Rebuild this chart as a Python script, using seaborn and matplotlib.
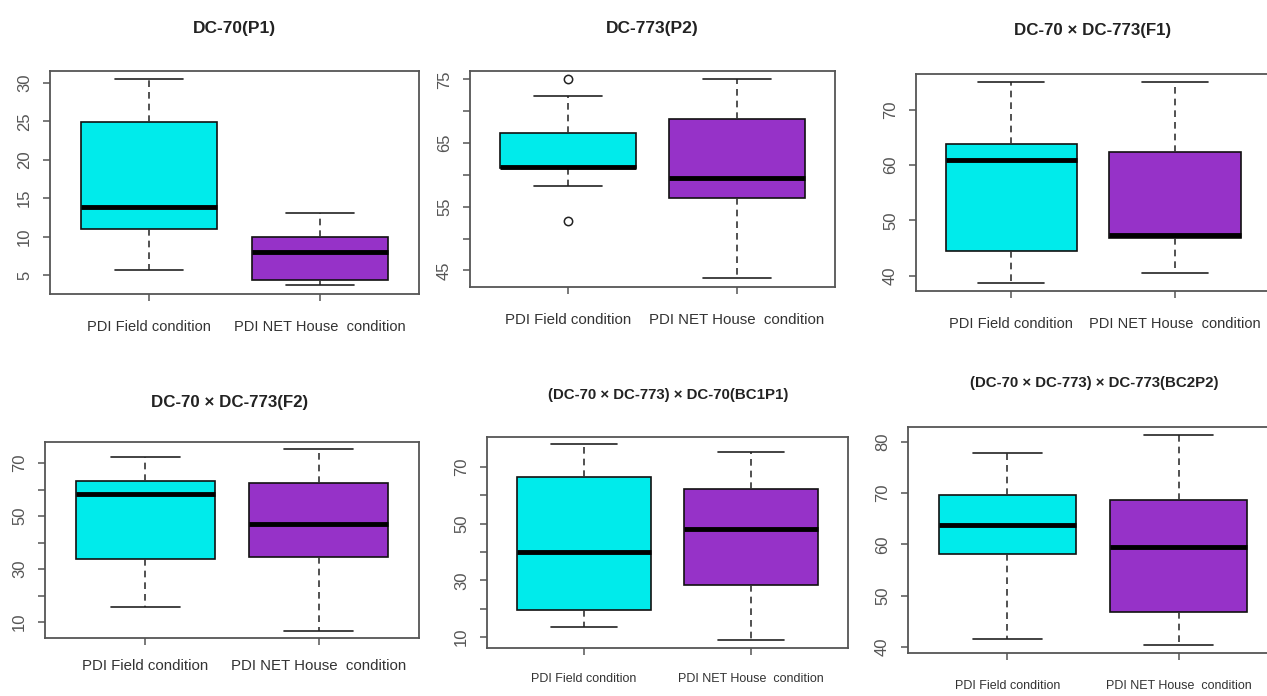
import numpy as np
import pandas as pd
import matplotlib
matplotlib.use("Agg")
import matplotlib.pyplot as plt
import seaborn as sns
from matplotlib import font_manager as fm

# ---------------- data ----------------
titles = ["DC-70(P1)", "DC-773(P2)", "DC-70 \u00d7 DC-773(F1)",
          "DC-70 \u00d7 DC-773(F2)", "(DC-70 \u00d7 DC-773) \u00d7 DC-70(BC1P1)",
          "(DC-70 \u00d7 DC-773) \u00d7 DC-773(BC2P2)"]
categories = ["PDI Field condition", "PDI NET House  condition"]

# five-number summaries: [lower whisker, Q1, median, Q3, upper whisker]
field_p1 = [5.6, 11.0, 13.8, 24.9, 30.5]
net_p1 = [3.7, 4.3, 8.0, 9.9, 13.1]
field_p2 = [58.3, 61.0, 61.3, 66.6, 72.3]
field_p2_outliers = [52.8, 75.0]
net_p2 = [43.8, 56.3, 59.5, 68.8, 75.0]
field_f1 = [38.7, 44.5, 61.0, 63.8, 75.0]
net_f1 = [40.5, 46.8, 47.3, 62.4, 75.0]
field_f2 = [15.8, 33.9, 58.5, 63.3, 72.4]
net_f2 = [6.6, 34.6, 47.0, 62.4, 75.4]
field_bc1 = [13.7, 19.4, 40.1, 66.6, 78.1]
net_bc1 = [9.1, 28.2, 48.2, 62.2, 75.1]
field_bc2 = [41.6, 58.2, 63.8, 69.6, 77.9]
net_bc2 = [40.4, 46.9, 59.5, 68.6, 81.4]

yticks_p1 = [5, 10, 15, 20, 25, 30]
ylabels_p1 = ["5", "10", "15", "20", "25", "30"]
yticks_p2 = [45, 50, 55, 60, 65, 70, 75]
ylabels_p2 = ["45", "", "55", "", "65", "", "75"]
yticks_f1 = [40, 50, 60, 70]
ylabels_f1 = ["40", "50", "60", "70"]
yticks_f2 = [10, 20, 30, 40, 50, 60, 70]
ylabels_f2 = ["10", "", "30", "", "50", "", "70"]
yticks_bc1 = [10, 20, 30, 40, 50, 60, 70]
ylabels_bc1 = ["10", "", "30", "", "50", "", "70"]
yticks_bc2 = [40, 50, 60, 70, 80]
ylabels_bc2 = ["40", "50", "60", "70", "80"]


def sample(stats, outliers=None):
    """Values whose box-plot summary is exactly `stats` (plus outliers)."""
    lo, q1, med, q3, hi = stats
    if not outliers:
        return [lo, q1, med, q3, hi]
    o_lo, o_hi = outliers
    return [o_lo, lo, q1, q1, med, q3, q3, hi, o_hi]


panels = [
    (sample(field_p1), sample(net_p1), yticks_p1, ylabels_p1),
    (sample(field_p2, field_p2_outliers), sample(net_p2), yticks_p2, ylabels_p2),
    (sample(field_f1), sample(net_f1), yticks_f1, ylabels_f1),
    (sample(field_f2), sample(net_f2), yticks_f2, ylabels_f2),
    (sample(field_bc1), sample(net_bc1), yticks_bc1, ylabels_bc1),
    (sample(field_bc2), sample(net_bc2), yticks_bc2, ylabels_bc2),
]

# ---------------- layout (pixels in a 1267x696 canvas) ----------------
W, H = 1267, 696
# left, top, right, bottom of the plot box
boxes = [(50, 71, 419, 294), (470, 71, 835, 287), (916, 74, 1270, 291),
         (45, 442, 419, 638), (487, 437, 848, 648), (908, 427, 1278, 653)]
ylims = [(2.53, 31.56), (42.4, 76.3), (37.2, 76.53),
         (4.06, 77.94), (6.13, 80.55), (38.83, 82.9)]
title_pos = [(234, 28), (652, 28), (1093, 31), (230, 403), (668, 395), (1094, 383)]
title_size = [12.5, 12.5, 12.2, 12.2, 10.8, 10.8]
xlab_y = [328, 322, 325, 668, 680, 687]
xlab_size = [10.5, 10.8, 10.5, 10.8, 9.0, 9.0]
whis_vals = [1.5, 1.2, 1.5, 1.5, 1.5, 1.5]

cyan = "#00EBEB"
purple = "#9632C8"

sns.set_theme(style="white")


def pick(names):
    for n in names:
        try:
            fm.findfont(fm.FontProperties(family=n), fallback_to_default=False)
            return n
        except Exception:
            pass
    return "DejaVu Sans"


narrow = pick(["Liberation Sans Narrow", "Liberation Sans", "DejaVu Sans"])
regular = pick(["Liberation Sans", "DejaVu Sans"])
plt.rcParams["font.family"] = [regular, "DejaVu Sans"]

fig = plt.figure(figsize=(W / 100, H / 100), dpi=100)
fig.patch.set_facecolor("white")

ticklen_px = 7
for i, (fvals, nvals, yt, yl) in enumerate(panels):
    L, T, R, B = boxes[i]
    ax = fig.add_axes([L / W, 1 - B / H, (R - L) / W, (B - T) / H])
    df = pd.DataFrame({
        "cond": [categories[0]] * len(fvals) + [categories[1]] * len(nvals),
        "val": list(fvals) + list(nvals),
    })
    sns.boxplot(data=df, x="cond", y="val", hue="cond", order=categories,
                hue_order=categories, palette=[cyan, purple], saturation=1,
                width=0.8, whis=whis_vals[i], linecolor="#111111", linewidth=1.2,
                medianprops=dict(color="black", linewidth=3.5),
                whiskerprops=dict(color="#333333", linestyle=(0, (4, 3)), linewidth=1.2),
                capprops=dict(color="#222222", linewidth=1.2),
                flierprops=dict(marker="o", markerfacecolor="none",
                                markeredgecolor="#222222", markersize=6, markeredgewidth=1.1),
                legend=False, ax=ax)
    ax.set_xlim(-0.58, 1.58)
    ax.set_ylim(*ylims[i])
    ax.set_xlabel("")
    ax.set_ylabel("")
    ax.set_yticks(yt)
    ax.set_yticklabels(yl, rotation=90, va="center", fontsize=12,
                       color="#555555", family=[regular, "DejaVu Sans"])
    ax.set_xticks([0, 1])
    ax.set_xticklabels(categories, fontsize=xlab_size[i], color="#333333",
                       family=[narrow, "DejaVu Sans"])
    for s in ax.spines.values():
        s.set_visible(True)
        s.set_color("#555555")
        s.set_linewidth(1.3)
    half_h = xlab_size[i] * 1.15 / 0.72 / 2
    pad_x = (xlab_y[i] - B - ticklen_px - half_h) * 0.72
    ax.tick_params(axis="x", direction="out", length=5, width=1.1, color="#555555",
                   pad=pad_x, bottom=True)
    ax.tick_params(axis="y", direction="out", length=5, width=1.1, color="#555555",
                   pad=8, left=True)
    ax.grid(False)
    ax.set_facecolor("white")
    tx, ty = title_pos[i]
    fig.text(tx / W, 1 - ty / H, titles[i], ha="center", va="center",
             fontsize=title_size[i], fontweight="bold", color="#222222",
             family=[narrow, "DejaVu Sans"])

fig.savefig("out.png", dpi=100, facecolor="white")
